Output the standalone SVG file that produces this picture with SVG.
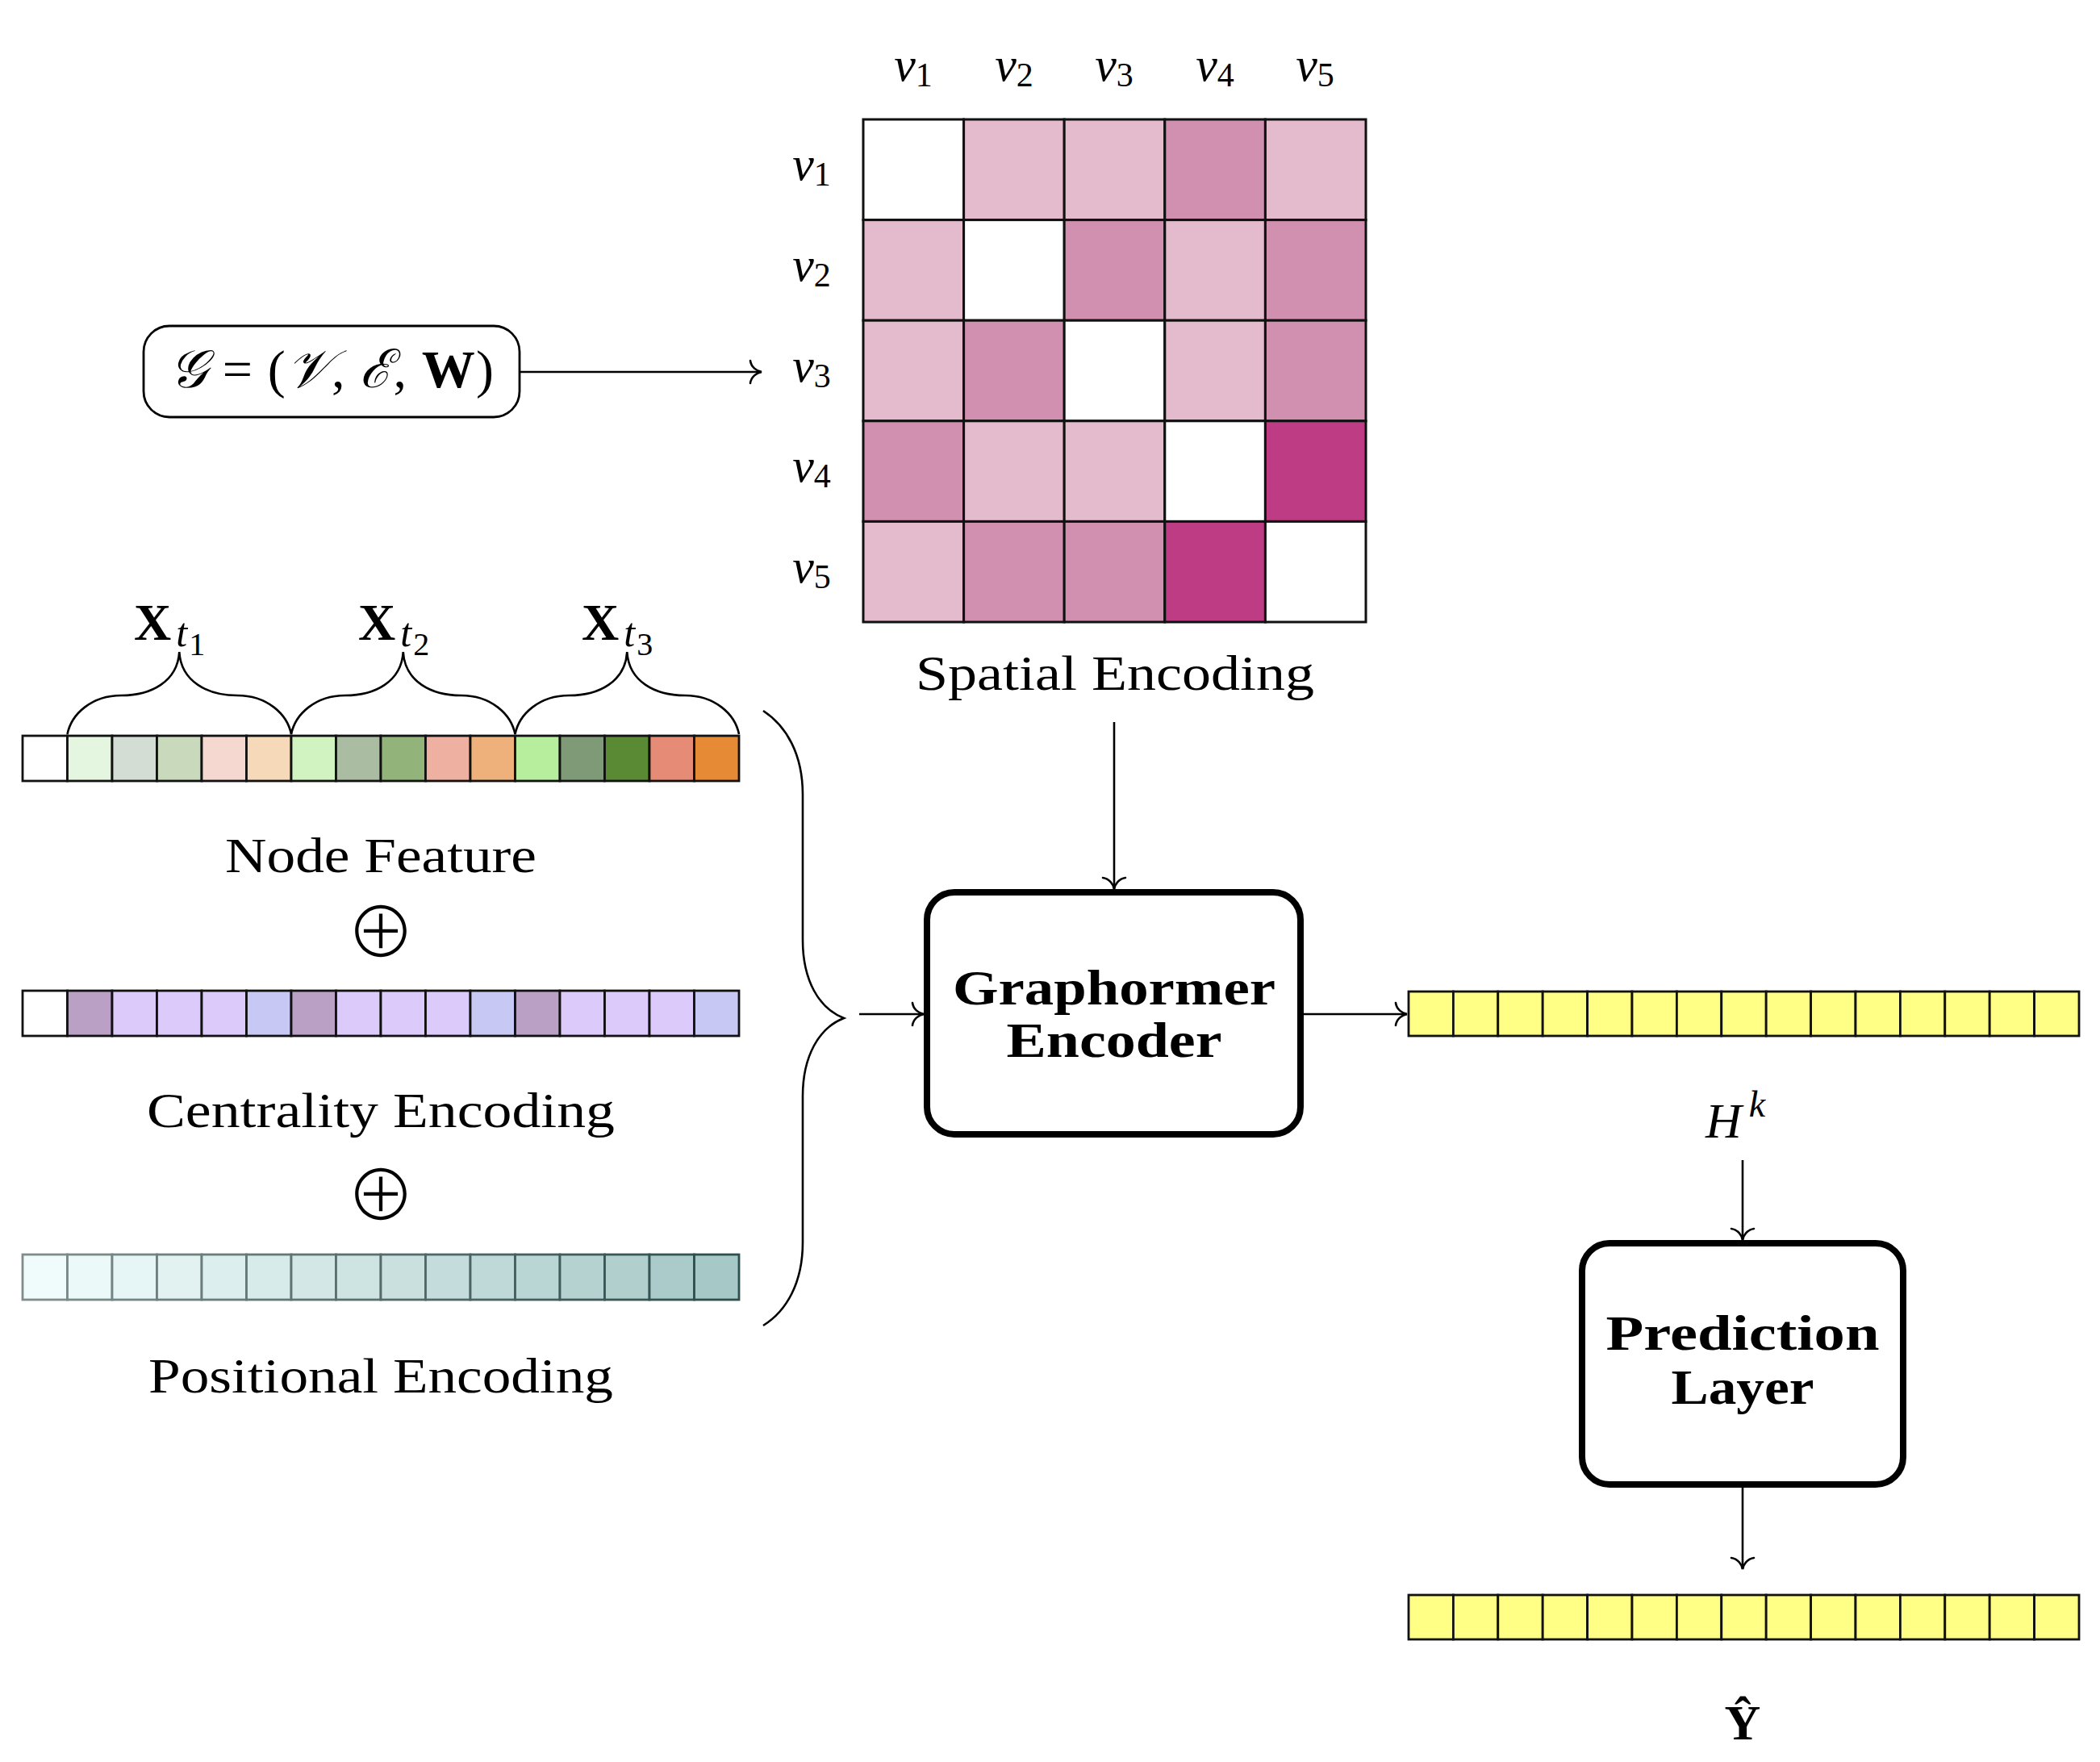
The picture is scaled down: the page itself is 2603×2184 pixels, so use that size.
<svg xmlns="http://www.w3.org/2000/svg" width="2603" height="2184" viewBox="0 0 2603 2184">
<style>
text{font-family:"Liberation Serif","DejaVu Serif",serif;fill:#000}
.lbl{font-size:62px;text-anchor:middle}
.bold{font-weight:bold}
.cell{stroke:#111;stroke-width:2.8}
.mx{stroke:#111;stroke-width:3}
.W{fill:#fff}.L{fill:#E3BBCD}.M{fill:#D190B0}.D{fill:#BD3C84}
.y{fill:#FFFF85}
.box{fill:#fff;stroke:#000;stroke-width:8}
.conn{stroke:#000;stroke-width:2.6;fill:none}
.brace{stroke:#000;stroke-width:2.6;fill:none}
.mv{font-size:60px;font-style:italic}
.op{font-family:"Noto Sans CJK JP","Noto Sans CJK SC",sans-serif;font-weight:300;font-size:86px;text-anchor:middle}
</style>
<defs>
<marker id="arr" viewBox="-18 -18 22 36" refX="0" refY="0" markerWidth="22" markerHeight="36" markerUnits="userSpaceOnUse" orient="auto">
<path d="M-14,-14 C-13,-6 -6,-1 0,0 C-6,1 -13,6 -14,14" fill="none" stroke="#000" stroke-width="2.6" stroke-linecap="round"/>
</marker>
</defs>

<g id="graph-input">
<rect x="178" y="404" width="466" height="113" rx="32" fill="#fff" stroke="#000" stroke-width="2.8"/>
<text x="411" y="480" font-size="66" text-anchor="middle" textLength="402" lengthAdjust="spacing"><tspan font-style="italic">𝒢</tspan> = (<tspan font-style="italic">𝒱</tspan>, <tspan font-style="italic">ℰ</tspan>, <tspan font-weight="bold">W</tspan>)</text>
</g>

<g id="spatial-matrix">
<g class="mx">
<rect class="W" x="1070" y="148" width="124.6" height="124.6"/>
<rect class="L" x="1194.6" y="148" width="124.6" height="124.6"/>
<rect class="L" x="1319.2" y="148" width="124.6" height="124.6"/>
<rect class="M" x="1443.8" y="148" width="124.6" height="124.6"/>
<rect class="L" x="1568.4" y="148" width="124.6" height="124.6"/>
<rect class="L" x="1070" y="272.6" width="124.6" height="124.6"/>
<rect class="W" x="1194.6" y="272.6" width="124.6" height="124.6"/>
<rect class="M" x="1319.2" y="272.6" width="124.6" height="124.6"/>
<rect class="L" x="1443.8" y="272.6" width="124.6" height="124.6"/>
<rect class="M" x="1568.4" y="272.6" width="124.6" height="124.6"/>
<rect class="L" x="1070" y="397.2" width="124.6" height="124.6"/>
<rect class="M" x="1194.6" y="397.2" width="124.6" height="124.6"/>
<rect class="W" x="1319.2" y="397.2" width="124.6" height="124.6"/>
<rect class="L" x="1443.8" y="397.2" width="124.6" height="124.6"/>
<rect class="M" x="1568.4" y="397.2" width="124.6" height="124.6"/>
<rect class="M" x="1070" y="521.8" width="124.6" height="124.6"/>
<rect class="L" x="1194.6" y="521.8" width="124.6" height="124.6"/>
<rect class="L" x="1319.2" y="521.8" width="124.6" height="124.6"/>
<rect class="W" x="1443.8" y="521.8" width="124.6" height="124.6"/>
<rect class="D" x="1568.4" y="521.8" width="124.6" height="124.6"/>
<rect class="L" x="1070" y="646.4" width="124.6" height="124.6"/>
<rect class="M" x="1194.6" y="646.4" width="124.6" height="124.6"/>
<rect class="M" x="1319.2" y="646.4" width="124.6" height="124.6"/>
<rect class="D" x="1443.8" y="646.4" width="124.6" height="124.6"/>
<rect class="W" x="1568.4" y="646.4" width="124.6" height="124.6"/>
</g>
<g class="mv" text-anchor="middle">
<text x="1132" y="100">v<tspan font-style="normal" font-size="42" dy="7">1</tspan></text>
<text x="1257" y="100">v<tspan font-style="normal" font-size="42" dy="7">2</tspan></text>
<text x="1381" y="100">v<tspan font-style="normal" font-size="42" dy="7">3</tspan></text>
<text x="1506" y="100">v<tspan font-style="normal" font-size="42" dy="7">4</tspan></text>
<text x="1630" y="100">v<tspan font-style="normal" font-size="42" dy="7">5</tspan></text>
<text x="1006" y="223">v<tspan font-style="normal" font-size="42" dy="7">1</tspan></text>
<text x="1006" y="348">v<tspan font-style="normal" font-size="42" dy="7">2</tspan></text>
<text x="1006" y="473">v<tspan font-style="normal" font-size="42" dy="7">3</tspan></text>
<text x="1006" y="597">v<tspan font-style="normal" font-size="42" dy="7">4</tspan></text>
<text x="1006" y="722">v<tspan font-style="normal" font-size="42" dy="7">5</tspan></text>
</g>
<text class="lbl" x="1382" y="855" textLength="494" lengthAdjust="spacingAndGlyphs">Spatial Encoding</text>
</g>

<g id="node-feature">
<g class="cell">
<rect x="28" y="912" width="55.5" height="56" fill="#FFFFFF"/>
<rect x="83.5" y="912" width="55.5" height="56" fill="#E5F6E0"/>
<rect x="139" y="912" width="55.5" height="56" fill="#D3DDD3"/>
<rect x="194.5" y="912" width="55.5" height="56" fill="#C8D9BC"/>
<rect x="250" y="912" width="55.5" height="56" fill="#F5D8D0"/>
<rect x="305.5" y="912" width="55.5" height="56" fill="#F5D9B9"/>
<rect x="361" y="912" width="55.5" height="56" fill="#D1F2C1"/>
<rect x="416.5" y="912" width="55.5" height="56" fill="#AABDA2"/>
<rect x="472" y="912" width="55.5" height="56" fill="#92B37A"/>
<rect x="527.5" y="912" width="55.5" height="56" fill="#EEB1A1"/>
<rect x="583" y="912" width="55.5" height="56" fill="#EEB17B"/>
<rect x="638.5" y="912" width="55.5" height="56" fill="#B7EE9E"/>
<rect x="694" y="912" width="55.5" height="56" fill="#7F9A76"/>
<rect x="749.5" y="912" width="55.5" height="56" fill="#5B8A34"/>
<rect x="805" y="912" width="55.5" height="56" fill="#E68C76"/>
<rect x="860.5" y="912" width="55.5" height="56" fill="#E68A36"/>
</g>
<path class="brace" d="M83.5,910 C88.5,885 113.5,862 150.5,862 C187,862 220,845 222.25,808 C224.5,845 257.5,862 294,862 C331,862 356,885 361,910"/>
<path class="brace" d="M361,910 C366,885 391,862 428,862 C464.75,862 497.5,845 499.75,808 C502,845 534.75,862 571.5,862 C608.5,862 633.5,885 638.5,910"/>
<path class="brace" d="M638.5,910 C643.5,885 668.5,862 705.5,862 C742.25,862 775,845 777.25,808 C779.5,845 812.25,862 849,862 C886,862 911,885 916,910"/>
<text x="166" y="793"><tspan class="bold" font-size="64">X</tspan><tspan font-style="italic" font-size="50" dx="6" dy="8">t</tspan><tspan font-size="40" dx="2" dy="11">1</tspan></text>
<text x="444" y="793"><tspan class="bold" font-size="64">X</tspan><tspan font-style="italic" font-size="50" dx="6" dy="8">t</tspan><tspan font-size="40" dx="2" dy="11">2</tspan></text>
<text x="721" y="793"><tspan class="bold" font-size="64">X</tspan><tspan font-style="italic" font-size="50" dx="6" dy="8">t</tspan><tspan font-size="40" dx="2" dy="11">3</tspan></text>
<text class="lbl" x="472" y="1081" textLength="386" lengthAdjust="spacingAndGlyphs">Node Feature</text>
<text class="op" x="472" y="1187">⊕</text>
</g>

<g id="centrality-encoding">
<g class="cell">
<rect x="28" y="1228" width="55.5" height="56" fill="#FFFFFF"/>
<rect x="83.5" y="1228" width="55.5" height="56" fill="#BBA0C6"/>
<rect x="139" y="1228" width="55.5" height="56" fill="#DCCBFA"/>
<rect x="194.5" y="1228" width="55.5" height="56" fill="#DCCBFA"/>
<rect x="250" y="1228" width="55.5" height="56" fill="#DCCBFA"/>
<rect x="305.5" y="1228" width="55.5" height="56" fill="#C8C8F5"/>
<rect x="361" y="1228" width="55.5" height="56" fill="#BBA0C6"/>
<rect x="416.5" y="1228" width="55.5" height="56" fill="#DCCBFA"/>
<rect x="472" y="1228" width="55.5" height="56" fill="#DCCBFA"/>
<rect x="527.5" y="1228" width="55.5" height="56" fill="#DCCBFA"/>
<rect x="583" y="1228" width="55.5" height="56" fill="#C8C8F5"/>
<rect x="638.5" y="1228" width="55.5" height="56" fill="#BBA0C6"/>
<rect x="694" y="1228" width="55.5" height="56" fill="#DCCBFA"/>
<rect x="749.5" y="1228" width="55.5" height="56" fill="#DCCBFA"/>
<rect x="805" y="1228" width="55.5" height="56" fill="#DCCBFA"/>
<rect x="860.5" y="1228" width="55.5" height="56" fill="#C8C8F5"/>
</g>
<text class="lbl" x="472" y="1397" textLength="580" lengthAdjust="spacingAndGlyphs">Centrality Encoding</text>
<text class="op" x="472" y="1513">⊕</text>
</g>

<g id="positional-encoding">
<g stroke-width="2.8">
<rect x="28" y="1555" width="55.5" height="56" fill="#F0FCFC" stroke="#808C8C"/>
<rect x="83.5" y="1555" width="55.5" height="56" fill="#EBF9F8" stroke="#7B8888"/>
<rect x="139" y="1555" width="55.5" height="56" fill="#E6F5F5" stroke="#758484"/>
<rect x="194.5" y="1555" width="55.5" height="56" fill="#E1F2F1" stroke="#708080"/>
<rect x="250" y="1555" width="55.5" height="56" fill="#DCEEEE" stroke="#6A7C7C"/>
<rect x="305.5" y="1555" width="55.5" height="56" fill="#D7EBEA" stroke="#657878"/>
<rect x="361" y="1555" width="55.5" height="56" fill="#D2E7E6" stroke="#607474"/>
<rect x="416.5" y="1555" width="55.5" height="56" fill="#CDE4E3" stroke="#5A7070"/>
<rect x="472" y="1555" width="55.5" height="56" fill="#C9E0DF" stroke="#556B6B"/>
<rect x="527.5" y="1555" width="55.5" height="56" fill="#C4DDDC" stroke="#4F6767"/>
<rect x="583" y="1555" width="55.5" height="56" fill="#BFD9D8" stroke="#4A6363"/>
<rect x="638.5" y="1555" width="55.5" height="56" fill="#BAD6D4" stroke="#455F5F"/>
<rect x="694" y="1555" width="55.5" height="56" fill="#B5D2D1" stroke="#3F5B5B"/>
<rect x="749.5" y="1555" width="55.5" height="56" fill="#B0CFCD" stroke="#3A5757"/>
<rect x="805" y="1555" width="55.5" height="56" fill="#ABCBCA" stroke="#345353"/>
<rect x="860.5" y="1555" width="55.5" height="56" fill="#A6C8C6" stroke="#2F4F4F"/>
</g>
<text class="lbl" x="472" y="1726" textLength="576" lengthAdjust="spacingAndGlyphs">Positional Encoding</text>
</g>

<g id="input-brace">
<path class="brace" d="M946,881 C975,900 995,935 995,985 L995,1165 C995,1215 1015,1250 1046,1262 C1015,1274 995,1309 995,1359 L995,1540 C995,1590 975,1625 946,1643"/>
</g>

<g id="graphormer-encoder">
<rect class="box" x="1149" y="1106" width="463" height="300" rx="34"/>
<text class="lbl bold" x="1381" y="1245" font-size="63" textLength="400" lengthAdjust="spacingAndGlyphs">Graphormer</text>
<text class="lbl bold" x="1381" y="1310" font-size="63" textLength="267" lengthAdjust="spacingAndGlyphs">Encoder</text>
</g>

<g id="hidden-state">
<g class="cell y">
<rect x="1746" y="1229" width="55.4" height="55"/>
<rect x="1801.4" y="1229" width="55.4" height="55"/>
<rect x="1856.8" y="1229" width="55.4" height="55"/>
<rect x="1912.2" y="1229" width="55.4" height="55"/>
<rect x="1967.6" y="1229" width="55.4" height="55"/>
<rect x="2023" y="1229" width="55.4" height="55"/>
<rect x="2078.4" y="1229" width="55.4" height="55"/>
<rect x="2133.8" y="1229" width="55.4" height="55"/>
<rect x="2189.2" y="1229" width="55.4" height="55"/>
<rect x="2244.6" y="1229" width="55.4" height="55"/>
<rect x="2300" y="1229" width="55.4" height="55"/>
<rect x="2355.4" y="1229" width="55.4" height="55"/>
<rect x="2410.8" y="1229" width="55.4" height="55"/>
<rect x="2466.2" y="1229" width="55.4" height="55"/>
<rect x="2521.6" y="1229" width="55.4" height="55"/>
</g>
<text x="2114" y="1410" font-size="62" font-style="italic">H<tspan font-size="46" dx="9" dy="-26">k</tspan></text>
</g>

<g id="prediction-layer">
<rect class="box" x="1961" y="1541" width="398" height="299" rx="34"/>
<text class="lbl bold" x="2160" y="1673" font-size="63" textLength="339" lengthAdjust="spacingAndGlyphs">Prediction</text>
<text class="lbl bold" x="2160" y="1740" font-size="63" textLength="177" lengthAdjust="spacingAndGlyphs">Layer</text>
</g>

<g id="output">
<g class="cell y">
<rect x="1746" y="1977" width="55.4" height="55"/>
<rect x="1801.4" y="1977" width="55.4" height="55"/>
<rect x="1856.8" y="1977" width="55.4" height="55"/>
<rect x="1912.2" y="1977" width="55.4" height="55"/>
<rect x="1967.6" y="1977" width="55.4" height="55"/>
<rect x="2023" y="1977" width="55.4" height="55"/>
<rect x="2078.4" y="1977" width="55.4" height="55"/>
<rect x="2133.8" y="1977" width="55.4" height="55"/>
<rect x="2189.2" y="1977" width="55.4" height="55"/>
<rect x="2244.6" y="1977" width="55.4" height="55"/>
<rect x="2300" y="1977" width="55.4" height="55"/>
<rect x="2355.4" y="1977" width="55.4" height="55"/>
<rect x="2410.8" y="1977" width="55.4" height="55"/>
<rect x="2466.2" y="1977" width="55.4" height="55"/>
<rect x="2521.6" y="1977" width="55.4" height="55"/>
</g>
<text class="lbl bold" x="2160" y="2156" font-size="62">Ŷ</text>
</g>

<g id="connectors" class="conn" marker-end="url(#arr)">
<line x1="644" y1="461" x2="944" y2="461"/>
<line x1="1381" y1="895" x2="1381" y2="1102"/>
<line x1="1065" y1="1257" x2="1145" y2="1257"/>
<line x1="1616" y1="1257" x2="1744" y2="1257"/>
<line x1="2160" y1="1438" x2="2160" y2="1537"/>
<line x1="2160" y1="1844" x2="2160" y2="1945"/>
</g>
</svg>
